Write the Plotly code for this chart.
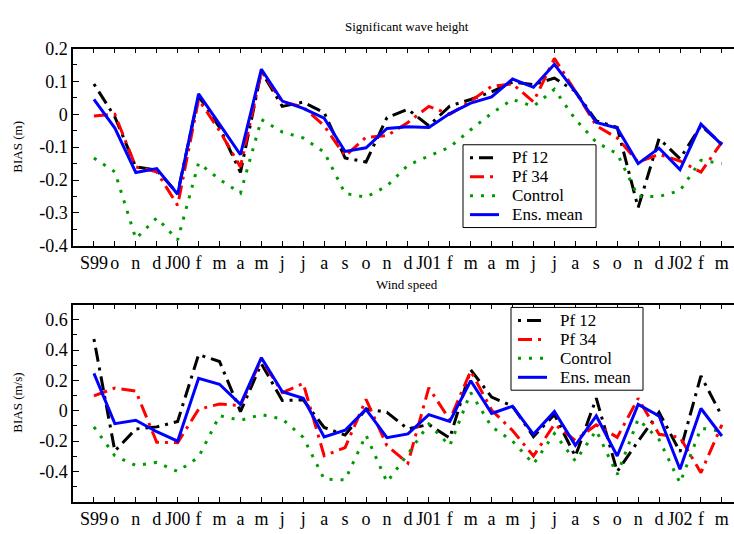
import plotly.graph_objects as go
import numpy as np

# Monthly tick labels, Sep 1999 .. Mar 2002
months = ["S99", "o", "n", "d", "J00", "f", "m", "a", "m", "j", "j", "a", "s", "o", "n", "d",
          "J01", "f", "m", "a", "m", "j", "j", "a", "s", "o", "n", "d", "J02", "f", "m"]

# Significant wave height bias (m)
swh_pf12 = [0.092, -0.008, -0.16, -0.17, -0.24, 0.055, -0.04, -0.177, 0.13, 0.024, 0.037,
            0.005, -0.133, -0.145, -0.01, 0.015, -0.035, 0.025, 0.045, 0.068, 0.098, 0.09,
            0.11, 0.07, -0.02, -0.04, -0.284, -0.074, -0.135, -0.035, -0.09]
swh_pf34 = [-0.005, 0.0, -0.16, -0.175, -0.277, 0.045, -0.05, -0.16, 0.13, 0.038, 0.022,
            -0.035, -0.127, -0.07, -0.065, -0.025, 0.024, 0.0, 0.04, 0.085, 0.092, 0.038,
            0.17, 0.07, -0.035, -0.072, -0.145, -0.122, -0.142, -0.176, -0.085]
swh_control = [-0.133, -0.175, -0.378, -0.315, -0.382, -0.148, -0.198, -0.24, -0.016, -0.054,
               -0.072, -0.115, -0.241, -0.252, -0.218, -0.155, -0.127, -0.1, -0.047, 0.003,
               0.045, 0.024, 0.076, -0.015, -0.085, -0.12, -0.25, -0.25, -0.232, -0.14, -0.15]
swh_mean = [0.045, -0.042, -0.177, -0.165, -0.243, 0.062, -0.03, -0.123, 0.137, 0.04, 0.018,
            -0.012, -0.113, -0.102, -0.043, -0.038, -0.04, 0.002, 0.034, 0.053, 0.107, 0.082,
            0.152, 0.068, -0.025, -0.042, -0.15, -0.103, -0.168, -0.03, -0.093]

# Wind speed bias (m/s)
ws_pf12 = [0.473, -0.265, -0.12, -0.106, -0.07, 0.37, 0.325, -0.005, 0.31, 0.068, 0.072,
           -0.11, -0.16, 0.012, -0.01, -0.12, -0.09, -0.18, 0.27, 0.09, 0.03, -0.17, -0.025,
           -0.3, 0.083, -0.4, -0.2, -0.01, -0.27, 0.23, -0.035]
ws_pf34 = [0.098, 0.15, 0.13, -0.207, -0.21, 0.01, 0.045, 0.035, 0.34, 0.12, 0.18, -0.296,
           -0.243, 0.075, -0.23, -0.345, 0.152, -0.06, 0.262, 0.005, -0.13, -0.298, -0.088,
           -0.195, -0.092, -0.175, 0.082, -0.155, -0.175, -0.408, -0.092]
ws_control = [-0.106, -0.297, -0.36, -0.34, -0.4, -0.305, -0.032, -0.063, -0.025, -0.055,
              -0.175, -0.45, -0.455, -0.16, -0.47, -0.285, -0.087, -0.23, 0.12, -0.105, -0.2,
              -0.35, -0.15, -0.33, -0.13, -0.42, -0.055, -0.19, -0.475, -0.115, -0.135]
ws_mean = [0.246, -0.085, -0.062, -0.138, -0.2, 0.214, 0.175, 0.042, 0.35, 0.126, 0.082,
           -0.173, -0.128, 0.01, -0.177, -0.152, -0.025, -0.07, 0.198, -0.017, 0.03, -0.155,
           -0.005, -0.227, -0.034, -0.298, 0.042, -0.034, -0.385, 0.015, -0.166]

x = list(range(len(months)))
W, H = 734, 534
FONT = "Liberation Serif"

styles = [
    ("Pf 12", "#000000", "3px,6px,14px,6px"),
    ("Pf 34", "#ff0000", "14px,6px,3px,6px"),
    ("Control", "#009a00", "3px,8px"),
    ("Ens. mean", "#0000ff", "solid"),
]

fig = go.Figure()
panels = [
    ([swh_pf12, swh_pf34, swh_control, swh_mean], "x", "y"),
    ([ws_pf12, ws_pf34, ws_control, ws_mean], "x2", "y2"),
]
for series, xa, ya in panels:
    for (name, color, dash), vals in zip(styles, series):
        fig.add_trace(go.Scatter(
            x=x, y=vals, mode="lines", name=name,
            line=dict(color=color, width=3, dash=dash),
            xaxis=xa, yaxis=ya, showlegend=False,
        ))


def py(p):
    """pixel row -> paper y"""
    return (H - p) / H


def pxx(p):
    """pixel column -> paper x"""
    return p / W


xcommon = dict(
    domain=[pxx(73), 1.0], range=[-1, 30.58], tickmode="array", tickvals=x, ticktext=months,
    ticks="inside", ticklen=5, tickwidth=1, tickcolor="#000",
    showline=True, linecolor="#000", linewidth=1.5, mirror="allticks",
    showgrid=False, zeroline=False,
    tickfont=dict(family=FONT, size=18, color="#000"),
)
ycommon = dict(
    ticks="inside", ticklen=6, tickwidth=1, tickcolor="#000",
    showline=True, linecolor="#000", linewidth=1.5, mirror=False,
    showgrid=False, zeroline=False,
    tickfont=dict(family=FONT, size=18, color="#000"),
)

top_ticks = [-0.4, -0.3, -0.2, -0.1, 0, 0.1, 0.2]
bot_ticks = [-0.4, -0.2, 0, 0.2, 0.4, 0.6]


def lab(v):
    return "0" if v == 0 else f"{v:g}"


fig.update_layout(
    width=W, height=H,
    margin=dict(l=0, r=0, t=0, b=0),
    paper_bgcolor="white", plot_bgcolor="white",
    showlegend=False,
    xaxis=dict(xcommon, anchor="y"),
    yaxis=dict(ycommon, domain=[py(245), py(40)], range=[-0.4, 0.2], anchor="x",
               tickmode="array", tickvals=top_ticks, ticktext=[lab(v) for v in top_ticks],
               minor=dict(tickvals=list(np.round(np.arange(-0.35, 0.2, 0.1), 3)),
                          ticks="inside", ticklen=4, tickcolor="#000")),
    xaxis2=dict(xcommon, anchor="y2"),
    yaxis2=dict(ycommon, domain=[py(511), py(306)], range=[-0.6, 0.7], anchor="x2",
                tickmode="array", tickvals=bot_ticks, ticktext=[lab(v) for v in bot_ticks],
                minor=dict(tickvals=list(np.round(np.arange(-0.5, 0.7, 0.2), 3)),
                           ticks="inside", ticklen=4, tickcolor="#000")),
)

# Panel titles and axis titles
annots = [
    dict(text="Significant wave height", x=pxx(407), y=py(17)),
    dict(text="Wind speed", x=pxx(407), y=py(285)),
    dict(text="BIAS (m)", x=pxx(18), y=py(142), textangle=-90),
    dict(text="BIAS (m/s)", x=pxx(18), y=py(408), textangle=-90),
]
for a in annots:
    fig.add_annotation(xref="paper", yref="paper", showarrow=False,
                       xanchor="center", yanchor="middle",
                       font=dict(family=FONT, size=13, color="#000"), **a)


# Boxed legends (one per panel)
def add_legend(left, top, width, height=86):
    fig.add_shape(type="rect", xref="paper", yref="paper",
                  x0=pxx(left), x1=pxx(left + width), y0=py(top + height), y1=py(top),
                  line=dict(color="#000", width=1), fillcolor="white", layer="above")
    rows = [13.5, 33.2, 52.9, 72.6]
    for (name, color, dash), r in zip(styles, rows):
        fig.add_shape(type="line", xref="paper", yref="paper",
                      x0=pxx(left + 7), x1=pxx(left + 36), y0=py(top + r), y1=py(top + r),
                      line=dict(color=color, width=3, dash=dash), layer="above")
        fig.add_annotation(xref="paper", yref="paper", showarrow=False,
                           x=pxx(left + 48), y=py(top + r), xanchor="left", yanchor="middle",
                           borderpad=0, text=name,
                           font=dict(family=FONT, size=17, color="#000"))


add_legend(463, 140, 133)
add_legend(511, 309, 132)

fig.write_html("out.html")
